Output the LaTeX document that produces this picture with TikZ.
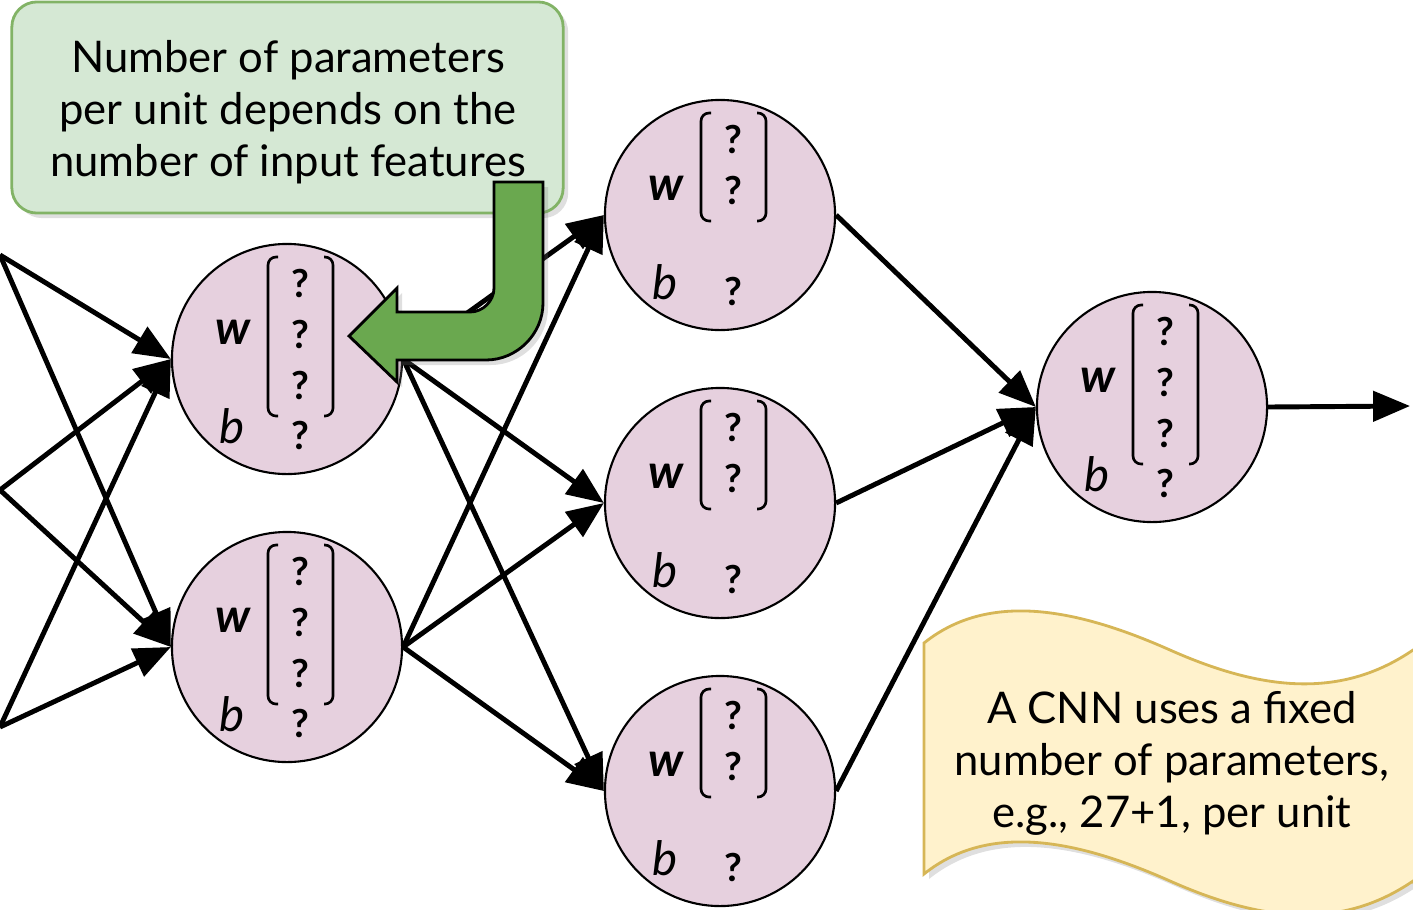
\documentclass[tikz,border=0pt]{standalone}
\usepackage{fontspec}
\setmainfont{Lato}
\usetikzlibrary{arrows.meta,shadows}

\definecolor{rosa}{HTML}{E6D0DE}
\definecolor{verdechiaro}{HTML}{D5E8D4}
\definecolor{verdebordo}{HTML}{82B366}
\definecolor{verdescuro}{HTML}{6AA84F}
\definecolor{giallo}{HTML}{FFF2CC}
\definecolor{giallobordo}{HTML}{D6B656}

% unita': nome, x, y, numero di pesi
\newcommand{\unita}[4]{%
  \node[unita] (#1) at (#2,#3) {};
  \node[peso] (#1-w) at (#2-54,#3-27) {\bfseries w};
  \node[peso] (#1-b) at (#2-55,#3+67) {b};
  \node[qm] (#1-bq) at (#2+13,#3+76) {?};
  \foreach \i in {1,...,#4}
    \node[qm] (#1-q\i) at (#2+13,#3-127+51*\i) {?};
  \draw[parentesi] (#2-9,#3-102) -- (#2-19,#3-102) -- (#2-19,#3-96+51*#4) -- (#2-9,#3-96+51*#4);
  \draw[parentesi] (#2+37,#3-102) -- (#2+46,#3-102) -- (#2+46,#3-96+51*#4) -- (#2+37,#3-96+51*#4);
}

\begin{document}
\begin{tikzpicture}[x=0.01cm,y=-0.01cm,
    unita/.style={circle,draw,fill=rosa,line width=0.6pt,minimum size=2.3cm,inner sep=0pt},
    peso/.style={inner sep=0pt,font=\fontsize{13.5}{15}\selectfont\itshape},
    qm/.style={inner sep=0pt,font=\fontsize{11}{12}\selectfont\bfseries},
    parentesi/.style={line width=0.75pt,rounded corners=0.08cm},
    freccia/.style={line width=1.4pt,-{Triangle[length=10.5pt,width=8.5pt]}},
    testo/.style={align=center,font=\fontsize{12.4}{14.8}\selectfont},
    ombra/.style={drop shadow={opacity=0.25,shadow xshift=0.05cm,shadow yshift=-0.05cm}}]
  \clip (0,0) rectangle (1413,909);

  %unita'
  \unita{h1a}{287}{359}{3}
  \unita{h1b}{287}{647}{3}
  \unita{h2a}{720}{215}{2}
  \unita{h2b}{720}{503}{2}
  \unita{h2c}{720}{791}{2}
  \unita{out}{1152}{407}{3}

  %ingressi
  \coordinate (in1) at (0,255);
  \coordinate (in2) at (0,490);
  \coordinate (in3) at (0,727);
  \coordinate (fine) at (1410,406);

  %frecce
  \foreach \a in {in1,in2,in3}
    \foreach \b in {h1a,h1b}
      \draw[freccia] (\a) -- (\b.west);
  \foreach \a in {h1a,h1b}
    \foreach \b in {h2a,h2b,h2c}
      \draw[freccia] (\a.east) -- (\b.west);
  \foreach \a in {h2a,h2b,h2c}
    \draw[freccia] (\a.east) -- (out.west);
  \draw[freccia] (out.east) -- (fine);

  %nota verde
  \node[ombra,draw=verdebordo,fill=verdechiaro,line width=0.8pt,rounded corners=0.25cm,
    minimum width=5.51cm,minimum height=2.11cm] (nota) at (287.5,107.5) {};
  \node[testo] (notatesto) at (288,112)
    {Number of parameters\\per unit depends on the\\number of input features};

  %freccia piegata
  \filldraw[ombra,fill=verdescuro,draw=black,line width=0.8pt]
    (494,182) -- (543,182) -- (543,303) .. controls (543,334) and (517,360) .. (486,360)
    -- (397,360) -- (397,382) -- (349,336) -- (397,288) -- (397,312) -- (470,312)
    .. controls (483,312) and (494,301) .. (494,288) -- cycle;

  %nota gialla
  \filldraw[ombra,fill=giallo,draw=giallobordo,line width=0.8pt]
    (924,643) .. controls (990,590) and (1080,610) .. (1170,650)
    .. controls (1260,690) and (1340,700) .. (1413,650) -- (1440,650) -- (1440,940)
    -- (1413,881) .. controls (1340,931) and (1260,921) .. (1170,881)
    .. controls (1080,841) and (990,821) .. (924,874) -- cycle;
  \node[testo] (cnn) at (1172,763) {A CNN uses a fixed\\number of parameters,\\e.g., 27+1, per unit};
\end{tikzpicture}
\end{document}
